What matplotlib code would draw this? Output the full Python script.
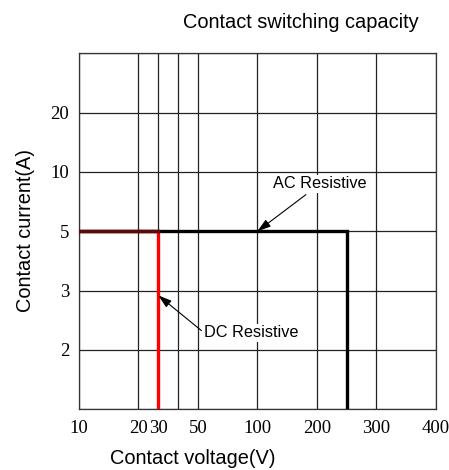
import numpy as np
import matplotlib
matplotlib.use("Agg")
import matplotlib.pyplot as plt

# Data
x_ticks = [10, 20, 30, 40, 50, 100, 200, 300, 400]
x_tick_labels = ["10", "20", "30", "", "50", "100", "200", "300", "400"]
y_ticks = [1, 2, 3, 5, 10, 20, 30]
y_tick_labels = ["", "2", "3", "5", "10", "20", ""]

ac_voltage = [10, 250, 250]
ac_current = [5, 5, 1]
dc_voltage = [10, 30, 30]
dc_current = [5, 5, 1]

# Layout of the chart's irregular grid (position units along each axis)
x_pos = [0, 1, 4/3, 5/3, 2, 3, 4, 5, 6]
y_pos = [0, 1, 2, 3, 4, 5, 6]

def xf(v):
    return np.interp(np.asarray(v, float), x_ticks, x_pos)
def xi(p):
    return np.interp(np.asarray(p, float), x_pos, x_ticks)
def yf(v):
    return np.interp(np.asarray(v, float), y_ticks, y_pos)
def yi(p):
    return np.interp(np.asarray(p, float), y_pos, y_ticks)

fig = plt.figure(figsize=(4.49, 4.70), dpi=100)
ax = fig.add_axes([79/449, 1-409.3/470, (435.7-79)/449, (409.3-53.3)/470])
ax.set_xscale('function', functions=(xf, xi))
ax.set_yscale('function', functions=(yf, yi))
ax.set_xlim(10, 400)
ax.set_ylim(1, 30)

ax.set_xticks(x_ticks)
ax.set_xticklabels(x_tick_labels)
ax.set_yticks(y_ticks)
ax.set_yticklabels(y_tick_labels)
ax.minorticks_off()
ax.tick_params(length=0, pad=8, labelsize=13.5)
for lbl in ax.get_xticklabels() + ax.get_yticklabels():
    lbl.set_fontfamily('Liberation Serif')
ax.tick_params(axis='y', pad=7)

ax.grid(True, color='#222222', linewidth=0.9)
for s in ax.spines.values():
    s.set_color('#333333')
    s.set_linewidth(0.9)

ax.plot(dc_voltage, dc_current, color='#ff0000', linewidth=2.4, solid_joinstyle='miter', zorder=3)
ax.plot(ac_voltage, ac_current, color='#000000', linewidth=2.4, solid_joinstyle='miter', zorder=4)
# red shows faintly under the shared horizontal
ax.plot(dc_voltage[:2], dc_current[:2], color='#5a0a0a', linewidth=2.4, zorder=5)

sans = 'Liberation Sans'
bbox = dict(facecolor='white', edgecolor='none', pad=1)
ax.annotate('AC Resistive', xy=(100, 5), xytext=(320/449, 1-184/470),
            textcoords='figure fraction', ha='center', va='center',
            fontsize=11.7, fontfamily=sans, bbox=bbox,
            arrowprops=dict(arrowstyle='-|>,head_length=0.7,head_width=0.22',
                            color='black', lw=0.8, shrinkA=2, shrinkB=0), zorder=6)
ax.annotate('DC Resistive', xy=(30, 2.92), xytext=(204/449, 1-332.7/470),
            textcoords='figure fraction', ha='left', va='center',
            fontsize=11.7, fontfamily=sans, bbox=bbox,
            arrowprops=dict(arrowstyle='-|>,head_length=0.7,head_width=0.22',
                            color='black', lw=0.8, shrinkA=1, shrinkB=0,
                            relpos=(0, 0.5)), zorder=6)

fig.text(300.5/449, 1-22/470, 'Contact switching capacity', ha='center', va='center',
         fontsize=14.4, fontfamily=sans)
fig.text(193/449, 1-458/470, 'Contact voltage(V)', ha='center', va='center',
         fontsize=14.4, fontfamily=sans)
fig.text(26/449, 1-231/470, 'Contact current(A)', ha='center', va='center',
         rotation=90, fontsize=14.4, fontfamily=sans)

fig.savefig('out.png', dpi=100)
